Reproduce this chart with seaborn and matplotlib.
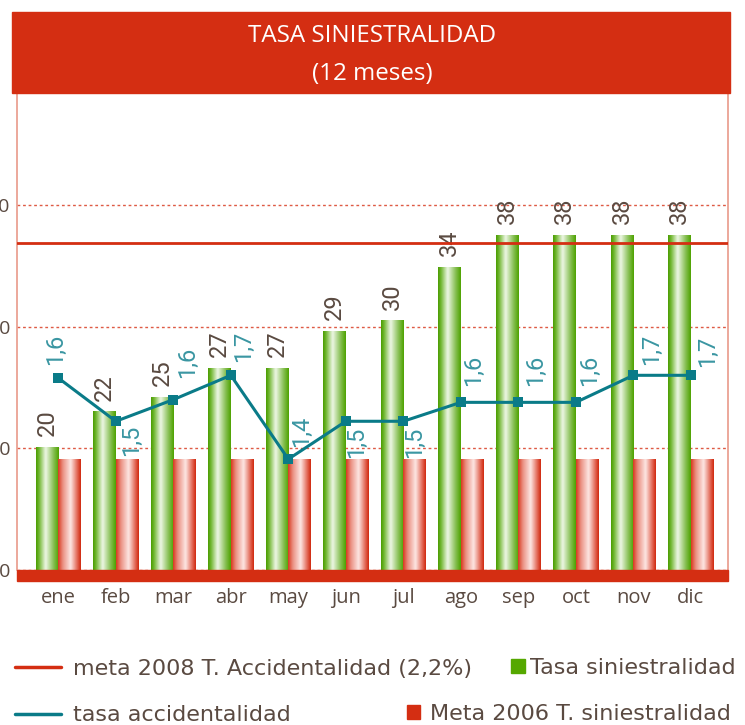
import numpy as np
import pandas as pd
import matplotlib
matplotlib.use("Agg")
import matplotlib.pyplot as plt
import seaborn as sns
from matplotlib.colors import LinearSegmentedColormap
from matplotlib.patches import Rectangle, Patch
from matplotlib.lines import Line2D

# datos
meses = ["ene", "feb", "mar", "abr", "may", "jun", "jul", "ago", "sep", "oct", "nov", "dic"]
siniestralidad = [20.1, 23.0, 24.2, 26.6, 26.6, 29.6, 30.5, 34.9, 37.5, 37.5, 37.5, 37.5]
etiq_siniestralidad = ["20", "22", "25", "27", "27", "29", "30", "34", "38", "38", "38", "38"]
meta_2006 = [19.1, 19.1, 19.1, 19.1, 19.1, 19.1, 19.1, 19.1, 19.1, 19.1, 19.1, 19.1]
accidentalidad = [1.70, 1.54, 1.62, 1.71, 1.40, 1.54, 1.54, 1.61, 1.61, 1.61, 1.71, 1.71]
etiq_accidentalidad = ["1,6", "1,5", "1,6", "1,7", "1,4", "1,5", "1,5", "1,6", "1,6", "1,6", "1,7", "1,7"]
meta_2008 = 2.2
y_ticks = [10, 20, 30, 40]

# posicion de las etiquetas de la linea (px: dx, dy, anclaje)
pos_etiq_acc = [(-3, 13, "bottom"), (16, -3, "top"), (14, 22, "bottom"), (13, 13, "bottom"),
                (13, 12, "bottom"), (11, -5, "top"), (11, -5, "top"), (13, 16, "bottom"),
                (17, 16, "bottom"), (14, 16, "bottom"), (18, 10, "bottom"), (17, 8, "bottom")]

ROJO = "#d42e12"
VERDE = "#55a800"
TEAL = "#0a7b88"
TEAL_TXT = "#3a96a2"
MARRON = "#5a4a41"
ROSA = "#e9998a"

sns.set_style("white")
plt.rcParams["font.family"] = ["DejaVu Sans"]
ETIQ = ["Roboto", "DejaVu Sans"]
OPEN = ["Open Sans", "DejaVu Sans"]

W, H = 745, 725
PX = 72 / 100  # px -> puntos

df = pd.DataFrame({
    "mes": meses * 2,
    "valor": siniestralidad + meta_2006,
    "serie": ["Tasa siniestralidad"] * len(meses) + ["Meta 2006 T. siniestralidad"] * len(meses),
})

fig = plt.figure(figsize=(W / 100, H / 100), dpi=100)
ax = fig.add_axes([17.3 / W, (H - 570) / H, (727.7 - 17.3) / W, (570 - 93) / H])

sns.barplot(data=df, x="mes", y="valor", hue="serie", palette=[VERDE, ROJO],
            width=0.78, gap=0, errorbar=None, legend=False, ax=ax)

# relleno degradado tipo cilindro
cm_verde = LinearSegmentedColormap.from_list(
    "verde", [(0, "#4a9c00"), (0.12, "#6fb62e"), (0.42, "#eef7e6"), (0.75, "#8dc35c"), (1, "#4ea200")])
cm_rojo = LinearSegmentedColormap.from_list(
    "rojo", [(0, "#d8391f"), (0.2, "#ea8e80"), (0.55, "#fde7e4"), (0.85, "#e26755"), (1, "#d0280e")])
grad = np.linspace(0, 1, 64).reshape(1, -1)
for cont, cmap in zip(ax.containers, [cm_verde, cm_rojo]):
    for bar in cont:
        x0, y0, w, h = bar.get_x(), bar.get_y(), bar.get_width(), bar.get_height()
        ax.imshow(grad, extent=[x0, x0 + w, y0, y0 + h], cmap=cmap, aspect="auto",
                  interpolation="bicubic", zorder=2)
        bar.set_visible(False)

# etiquetas de las barras verdes
for bar, txt in zip(ax.containers[0], etiq_siniestralidad):
    ax.annotate(txt, (bar.get_x() + bar.get_width() / 2, bar.get_height()),
                xytext=(0, 11 * PX), textcoords="offset points", rotation=90,
                ha="center", va="bottom", color=MARRON, fontsize=17, family=ETIQ, zorder=3)

ax.set_xlim(-0.713, 11.64)
ax.set_ylim(10, 49.2)
ax.set_yticks(y_ticks)
ax.set_xlabel("")
ax.set_ylabel("")
ax.yaxis.grid(True, color="#de5b45", linestyle=(0, (2, 2)), lw=1)
ax.set_axisbelow(True)
ax.tick_params(axis="y", length=0, pad=5, labelsize=14, labelcolor=MARRON)
ax.tick_params(axis="x", length=0, pad=13, labelsize=14.5, labelcolor=MARRON)
for lbl in ax.get_xticklabels() + ax.get_yticklabels():
    lbl.set_fontfamily(OPEN)
for s in ["top", "bottom"]:
    ax.spines[s].set_visible(False)
for s in ["left", "right"]:
    ax.spines[s].set_color(ROSA)
    ax.spines[s].set_linewidth(1.2)

# franja roja inferior
ax.add_patch(Rectangle((0, -10.7 / 477), 1, 10.7 / 477, transform=ax.transAxes,
                       color=ROJO, clip_on=False, zorder=6))

# eje secundario: tasa de accidentalidad
ax2 = ax.twinx()
ax2.axhline(meta_2008, color=ROJO, lw=2, zorder=3)
sns.lineplot(x=np.arange(len(meses)), y=accidentalidad, ax=ax2, color=TEAL, lw=2.2,
             marker="s", markersize=6.5, markeredgewidth=0, zorder=5)
ax2.set_ylim(0.990, 2.754)
ax2.set_yticks([])
ax2.set_ylabel("")
for s in ax2.spines.values():
    s.set_visible(False)

for i, (txt, (dx, dy, va)) in enumerate(zip(etiq_accidentalidad, pos_etiq_acc)):
    ax2.annotate(txt, (i, accidentalidad[i]), xytext=(dx * PX, dy * PX),
                 textcoords="offset points", rotation=90, ha="center", va=va,
                 color=TEAL_TXT, fontsize=17, family=ETIQ, zorder=6)

# barra del titulo
fig.add_artist(Rectangle((12 / W, (H - 93) / H), (730 - 12) / W, 81 / H,
                         transform=fig.transFigure, color=ROJO))
fig.text(372 / W, (H - 41.7) / H, "TASA SINIESTRALIDAD", ha="center", va="baseline",
         color="white", fontsize=17.4, family=OPEN)
fig.text(372 / W, (H - 80) / H, "(12 meses)", ha="center", va="baseline",
         color="white", fontsize=17.4, family=OPEN)

# leyenda
prop = {"family": ["DejaVu Sans"], "size": 16}
fig.legend([Line2D([], [], color=ROJO, lw=2.5), Line2D([], [], color=TEAL, lw=2.5)],
           ["meta 2008 T. Accidentalidad (2,2%)", "tasa accidentalidad"],
           loc="center left", bbox_to_anchor=(15 / W, (H - 692) / H), frameon=False,
           borderpad=0, borderaxespad=0, handlelength=2.07, handletextpad=0.53,
           labelspacing=1.2, prop=prop, labelcolor=MARRON)
fig.legend([Patch(color=VERDE)], ["Tasa siniestralidad"], loc="center right",
           bbox_to_anchor=(736 / W, (H - 668) / H), frameon=False, borderpad=0,
           borderaxespad=0, handlelength=0.63, handleheight=0.6, handletextpad=0.23,
           prop=prop, labelcolor=MARRON)
fig.legend([Patch(color=ROJO)], ["Meta 2006 T. siniestralidad"], loc="center right",
           bbox_to_anchor=(731 / W, (H - 714) / H), frameon=False, borderpad=0,
           borderaxespad=0, handlelength=0.6, handleheight=0.6, handletextpad=0.45,
           prop=prop, labelcolor=MARRON)

fig.savefig("out.png", dpi=100)
